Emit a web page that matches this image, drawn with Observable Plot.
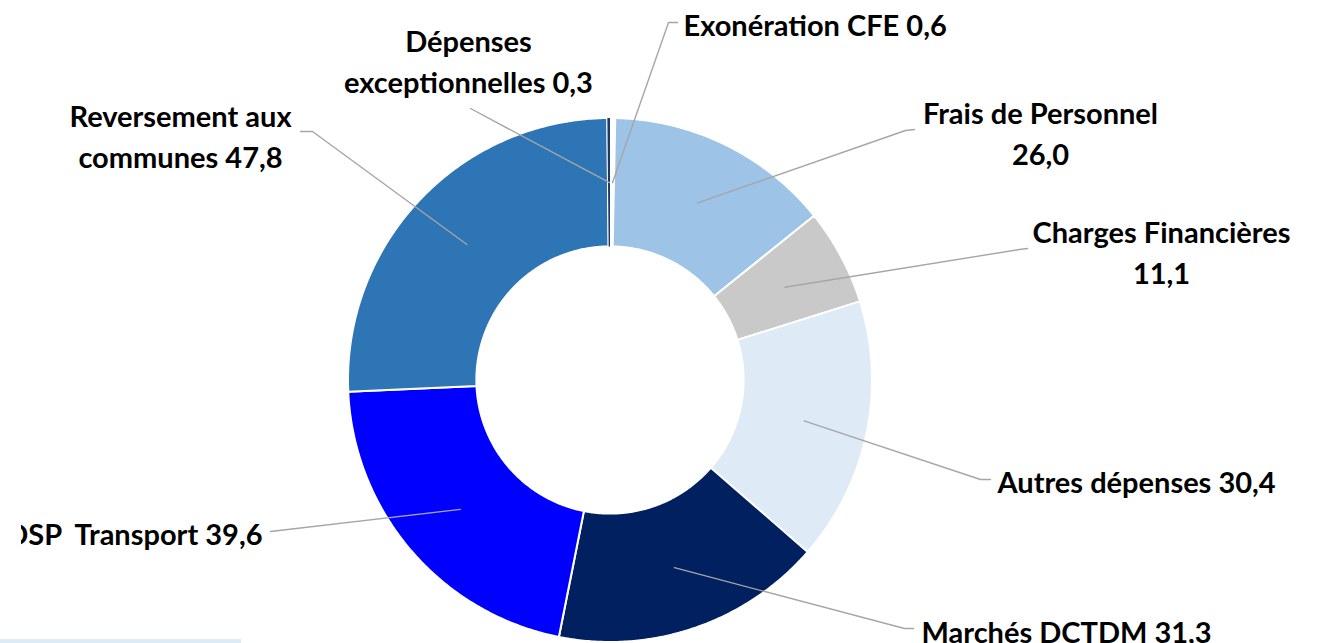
<!DOCTYPE html>
<html><head><meta charset="utf-8">
<script src="https://cdn.jsdelivr.net/npm/d3@7"></script>
<script src="https://cdn.jsdelivr.net/npm/@observablehq/plot@0.6"></script>
<style>
html,body{margin:0;padding:0;background:#fff;}
#wrap{position:relative;width:1319px;height:643px;overflow:hidden;}
#clip{position:absolute;left:21px;top:0;width:1298px;height:643px;overflow:hidden;}
#clip svg{margin-left:-21px;display:block;max-width:none !important;width:1319px;height:643px;}
#band{position:absolute;left:0;top:639px;width:241px;height:4px;background:#DDEBF7;}
</style></head><body>
<div id="wrap"><div id="clip"></div><div id="band"></div></div>
<script>
// ---- data ----
const categories = ["Exonération CFE", "Frais de Personnel", "Charges Financières", "Autres dépenses",
  "Marchés DCTDM", "DSP  Transport", "Reversement aux communes", "Dépenses exceptionnelles"];
const values = [0.6, 26.0, 11.1, 30.4, 31.3, 39.6, 47.8, 0.3];
const colors = ["#FFFFFF", "#9DC3E6", "#C9C9C9", "#DEEBF7", "#002060", "#0000FF", "#2E75B6", "#1F3864"];
// number of words on the first label line (0 = single line)
const firstLineWords = [0, 3, 2, 0, 0, 0, 2, 1];

// ---- layout (pixels) ----
const W = 1319, H = 643, CX = 610, CY = 380, R = 262, INNER = 0.51;
const labelAnchor = ["start", "middle", "middle", "start", "start", "end", "middle", "middle"];
const labelPos = [[683, 22], [1040, 131], [1161, 250], [997, 479], [921, 629], [262, 531], [180, 134], [468, 59]];
const leaderElbow = [[668, 22], [905, 130], [1019, 249], [980, 479], [904, 628], [270, 531], [312, 131], [470, 108]];
const leaderEnd = [[677, 22], [914, 129], [1027, 248], [990, 479], [913, 628], [270, 531], [300, 131], [470, 108]];

const ux = px => (px - CX) / R, uy = py => (CY - py) / R;
const fmt = v => v.toFixed(1).replace(".", ",");

const total = d3.sum(values);
let acc = 0;
const slices = categories.map((name, i) => {
  const a0 = acc / total * 2 * Math.PI; acc += values[i];
  const a1 = acc / total * 2 * Math.PI;
  return {name, value: values[i], a0, a1, i};
});
const ring = slices.flatMap(s => {
  const n = Math.max(2, Math.ceil((s.a1 - s.a0) / (Math.PI / 360)));
  return d3.range(n + 1).map(k => {
    const t = s.a0 + (s.a1 - s.a0) * k / n;
    return {name: s.name, value: s.value,
      xi: INNER * Math.sin(t), yi: INNER * Math.cos(t), xo: Math.sin(t), yo: Math.cos(t)};
  });
});
const rm = (1 + INNER) / 2;
const leaders = slices.flatMap(s => {
  const m = (s.a0 + s.a1) / 2;
  return [
    {name: s.name, x: rm * Math.sin(m), y: rm * Math.cos(m)},
    {name: s.name, x: ux(leaderElbow[s.i][0]), y: uy(leaderElbow[s.i][1])},
    {name: s.name, x: ux(leaderEnd[s.i][0]), y: uy(leaderEnd[s.i][1])}
  ];
});
const labels = slices.map(s => {
  const words = (s.name + " " + fmt(s.value)).split(" ");
  const k = firstLineWords[s.i];
  const text = k ? words.slice(0, k).join(" ") + "\n" + words.slice(k).join(" ") : words.join(" ");
  return {text, anchor: labelAnchor[s.i], x: ux(labelPos[s.i][0]), y: uy(labelPos[s.i][1])};
});

const textOpts = a => ({filter: d => d.anchor === a, x: "x", y: "y", text: "text", textAnchor: a,
  lineAnchor: "middle", lineHeight: 1.41, fontSize: 29, fontWeight: "bold", fill: "#000"});

const chart = Plot.plot({
  width: W, height: H, margin: 0,
  style: {fontFamily: "Lato, 'Open Sans', sans-serif", background: "white"},
  x: {domain: [-CX / R, (W - CX) / R], axis: null},
  y: {domain: [-(H - CY) / R, CY / R], axis: null},
  color: {domain: categories, range: colors},
  marks: [
    Plot.area(ring, {x1: "xi", y1: "yi", x2: "xo", y2: "yo", z: "name", fill: "name", stroke: "white", strokeWidth: 2}),
    Plot.area(ring, {filter: d => d.value / total < 0.0025, x1: "xi", y1: "yi", x2: "xo", y2: "yo", z: "name", fill: "name"}),
    Plot.line(leaders, {x: "x", y: "y", z: "name", stroke: "#A6A6A6", strokeWidth: 1.4}),
    Plot.text(labels, textOpts("start")),
    Plot.text(labels, textOpts("middle")),
    Plot.text(labels, textOpts("end"))
  ]
});
document.getElementById("clip").appendChild(chart);
</script>
</body></html>
